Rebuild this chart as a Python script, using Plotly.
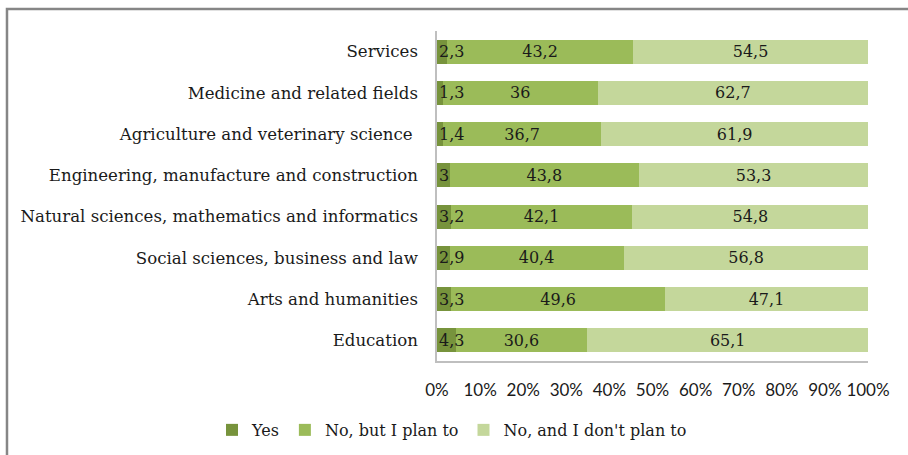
import plotly.graph_objects as go

categories = [
    "Services",
    "Medicine and related fields",
    "Agriculture and veterinary science ",
    "Engineering, manufacture and construction",
    "Natural sciences, mathematics and informatics",
    "Social sciences, business and law",
    "Arts and humanities",
    "Education",
]
yes_vals = [2.3, 1.3, 1.4, 3, 3.2, 2.9, 3.3, 4.3]
plan_vals = [43.2, 36, 36.7, 43.8, 42.1, 40.4, 49.6, 30.6]
noplan_vals = [54.5, 62.7, 61.9, 53.3, 54.8, 56.8, 47.1, 65.1]
tick_vals = [0, 10, 20, 30, 40, 50, 60, 70, 80, 90, 100]
tick_text = [f"{t}%" for t in tick_vals]

SERIF = "DejaVu Serif"
SANS = "Lato"
FS = 16
TXT = "#1a1a1a"


def fmt(v):
    return f"{v:g}".replace(".", ",")


series = [
    ("Yes", yes_vals, "#77933C"),
    ("No, but I plan to", plan_vals, "#9BBB59"),
    ("No, and I don't plan to", noplan_vals, "#C4D79B"),
]

fig = go.Figure()
for name, vals, color in series:
    show_text = name != "Yes"
    fig.add_trace(go.Bar(
        y=categories,
        x=vals,
        name=name,
        orientation="h",
        marker=dict(color=color, line=dict(width=0)),
        text=[fmt(v) for v in vals] if show_text else None,
        textposition="inside" if show_text else "none",
        insidetextanchor="middle",
        textangle=0,
        constraintext="none",
        textfont=dict(family=SERIF, size=FS, color=TXT),
        hoverinfo="skip",
    ))

# small "Yes" shares: labels start just right of the axis
for cat, v in zip(categories, yes_vals):
    fig.add_annotation(
        x=0, y=cat, text=fmt(v), showarrow=False,
        xanchor="left", xshift=0,
        font=dict(family=SERIF, size=FS, color=TXT),
    )

# outer frame
fig.add_shape(
    type="rect", xref="paper", yref="paper",
    x0=-0.9977, x1=1.2, y0=-0.6, y1=1.0667,
    line=dict(color="#868686", width=2.5), fillcolor="rgba(0,0,0,0)",
    layer="above",
)

fig.update_layout(
    barmode="stack",
    bargap=0.42,
    width=908, height=455,
    margin=dict(l=437, r=40, t=31, b=94, autoexpand=False),
    paper_bgcolor="white", plot_bgcolor="white",
    font=dict(family=SERIF, size=FS, color=TXT),
    showlegend=True,
    legend=dict(
        orientation="h",
        x=-0.522, xanchor="left", y=-0.209, yanchor="middle",
        font=dict(family=SERIF, size=FS, color=TXT),
        traceorder="normal", itemwidth=30,
    ),
    xaxis=dict(
        range=[0, 100], tickvals=tick_vals, ticktext=tick_text,
        showgrid=False, zeroline=False, showline=True,
        linecolor="#BFBFBF", linewidth=1.5, ticks="",
        tickfont=dict(family=SANS, size=17, color=TXT),
        ticklabelstandoff=13, automargin=False,
    ),
    yaxis=dict(
        autorange="reversed", showgrid=False, zeroline=False,
        showline=True, linecolor="#BFBFBF", linewidth=1.5, ticks="",
        tickfont=dict(family=SERIF, size=16.6, color=TXT),
        ticklabelstandoff=14, automargin=False,
    ),
)

fig.write_html("out.html")
